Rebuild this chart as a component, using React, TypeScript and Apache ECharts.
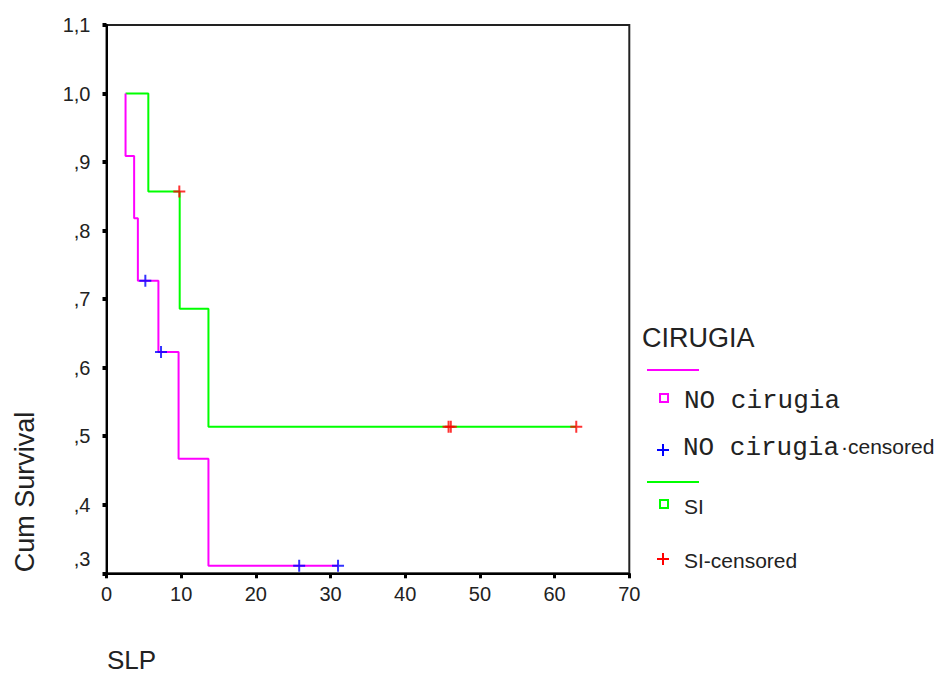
import React, { useEffect, useRef } from 'react';
import * as echarts from 'echarts';

// Kaplan-Meier steps: [time, survival after event] (step drawn at the end)
const noCirugiaSteps: [number, number][] = [
  [2.55, 1.0], [2.55, 0.909], [3.7, 0.818], [4.2, 0.727], [6.95, 0.623],
  [9.65, 0.467], [13.65, 0.311], [31.0, 0.311],
];
const noCirugiaCensored: [number, number][] = [
  [5.2, 0.727], [7.3, 0.623], [25.8, 0.311], [31.0, 0.311],
];
const siSteps: [number, number][] = [
  [2.55, 1.0], [5.6, 0.857], [9.8, 0.686], [13.65, 0.514], [62.9, 0.514],
];
const siCensored: [number, number][] = [
  [9.75, 0.857], [45.8, 0.514], [46.1, 0.514], [62.9, 0.514],
];

const xAxisRange = { min: 0, max: 70, interval: 10 };
const yAxisRange = { min: 0.3, max: 1.1, interval: 0.1 };

const legendTitle = 'CIRUGIA';
const groupLabel1 = 'NO cirugia';
const groupLabel2 = 'SI';
const censoredSuffix = '·censored';
const siCensoredLabel = 'SI-censored';
const yAxisName = 'Cum Survival';
const xAxisName = 'SLP';

const MAGENTA = '#ff00ff';
const GREEN = '#00ff00';
const BLUE = '#0000ff';
const RED = '#ff0000';
const TEXT = '#222222';
const SANS = '"Liberation Sans", Arial, sans-serif';
const MONO = '"Liberation Mono", "Courier New", monospace';
const CROSS = 'path://M5,0H7V5H12V7H7V12H5V7H0V5H5Z';

export default function App() {
  const ref = useRef<HTMLDivElement>(null);
  useEffect(() => {
    if (!ref.current) return;
    const chart = echarts.init(ref.current, null, { renderer: 'svg' });
    const yFmt = (v: number) => {
      let s = v.toFixed(1).replace('.', ',');
      if (s.startsWith('0')) s = s.slice(1);
      if (Math.abs(v - 0.3) < 1e-6) return '{low|' + s + '}';
      return s;
    };
    chart.setOption({
      animation: false,
      backgroundColor: '#ffffff',
      grid: {
        left: 106.5, top: 25, right: 314.7, bottom: 101.7,
        show: true, borderColor: '#222', borderWidth: 2, containLabel: false,
      },
      xAxis: {
        type: 'value', ...xAxisRange,
        axisLine: { show: true, lineStyle: { color: '#000', width: 2 } },
        axisTick: { show: true, length: 5, lineStyle: { color: '#000', width: 3 } },
        axisLabel: { color: TEXT, fontFamily: SANS, fontSize: 20, margin: 11 },
        splitLine: { show: false },
      },
      yAxis: {
        type: 'value', ...yAxisRange,
        axisLine: { show: true, lineStyle: { color: '#000', width: 2 } },
        axisTick: { show: true, length: 4, lineStyle: { color: '#000', width: 4 } },
        axisLabel: {
          color: TEXT, fontFamily: SANS, fontSize: 20, margin: 16,
          formatter: yFmt,
          rich: { low: { color: TEXT, fontFamily: SANS, fontSize: 20, padding: [0, 0, 28, 0] } },
        },
        splitLine: { show: false },
      },
      series: [
        {
          type: 'line', name: groupLabel2, data: siSteps, step: 'end',
          showSymbol: false, lineStyle: { color: GREEN, width: 2 }, z: 2,
        },
        {
          type: 'line', name: groupLabel1, data: noCirugiaSteps, step: 'end',
          showSymbol: false, lineStyle: { color: MAGENTA, width: 2 }, z: 3,
        },
        {
          type: 'scatter', name: groupLabel1 + ' censored', data: noCirugiaCensored,
          symbol: CROSS, symbolSize: 12, itemStyle: { color: BLUE }, z: 5,
        },
        {
          type: 'scatter', name: siCensoredLabel, data: siCensored,
          symbol: CROSS, symbolSize: 12, itemStyle: { color: RED }, z: 5,
        },
      ],
      graphic: [
        {
          type: 'text', x: 25, y: 492, rotation: Math.PI / 2,
          style: { text: yAxisName, font: '27px ' + SANS, fill: TEXT, align: 'center', verticalAlign: 'middle' },
        },
        {
          type: 'text', x: 107, y: 660,
          style: { text: xAxisName, font: '26px ' + SANS, fill: TEXT, align: 'left', verticalAlign: 'middle' },
        },
        {
          type: 'text', x: 642, y: 338,
          style: { text: legendTitle, font: '27px ' + SANS, fill: TEXT, align: 'left', verticalAlign: 'middle' },
        },
        { type: 'line', shape: { x1: 647, y1: 370, x2: 699, y2: 370 }, style: { stroke: MAGENTA, lineWidth: 2 } },
        { type: 'rect', shape: { x: 660, y: 394, width: 8, height: 8 }, style: { stroke: MAGENTA, fill: 'none', lineWidth: 2 } },
        {
          type: 'text', x: 684, y: 401,
          style: { text: groupLabel1, font: '26px ' + MONO, fill: TEXT, align: 'left', verticalAlign: 'middle' },
        },
        {
          type: 'group', x: 663, y: 450,
          children: [
            { type: 'line', shape: { x1: -6, y1: 0, x2: 6, y2: 0 }, style: { stroke: BLUE, lineWidth: 2 } },
            { type: 'line', shape: { x1: 0, y1: -6, x2: 0, y2: 6 }, style: { stroke: BLUE, lineWidth: 2 } },
          ],
        },
        {
          type: 'text', x: 683, y: 448,
          style: { text: groupLabel1, font: '26px ' + MONO, fill: TEXT, align: 'left', verticalAlign: 'middle' },
        },
        {
          type: 'text', x: 841, y: 446,
          style: { text: censoredSuffix, font: '21px ' + SANS, fill: TEXT, align: 'left', verticalAlign: 'middle' },
        },
        { type: 'line', shape: { x1: 647, y1: 482, x2: 699, y2: 482 }, style: { stroke: GREEN, lineWidth: 2 } },
        { type: 'rect', shape: { x: 660, y: 500, width: 8, height: 8 }, style: { stroke: GREEN, fill: 'none', lineWidth: 2 } },
        {
          type: 'text', x: 684, y: 506,
          style: { text: groupLabel2, font: '21px ' + SANS, fill: TEXT, align: 'left', verticalAlign: 'middle' },
        },
        {
          type: 'group', x: 663, y: 559,
          children: [
            { type: 'line', shape: { x1: -6, y1: 0, x2: 6, y2: 0 }, style: { stroke: RED, lineWidth: 2 } },
            { type: 'line', shape: { x1: 0, y1: -6, x2: 0, y2: 6 }, style: { stroke: RED, lineWidth: 2 } },
          ],
        },
        {
          type: 'text', x: 684, y: 560,
          style: { text: siCensoredLabel, font: '21px ' + SANS, fill: TEXT, align: 'left', verticalAlign: 'middle' },
        },
      ],
    });
    return () => chart.dispose();
  }, []);
  return (
    <div
      ref={ref}
      style={{ position: 'fixed', left: 0, top: 0, width: 944, height: 675, background: '#fff' }}
    />
  );
}
